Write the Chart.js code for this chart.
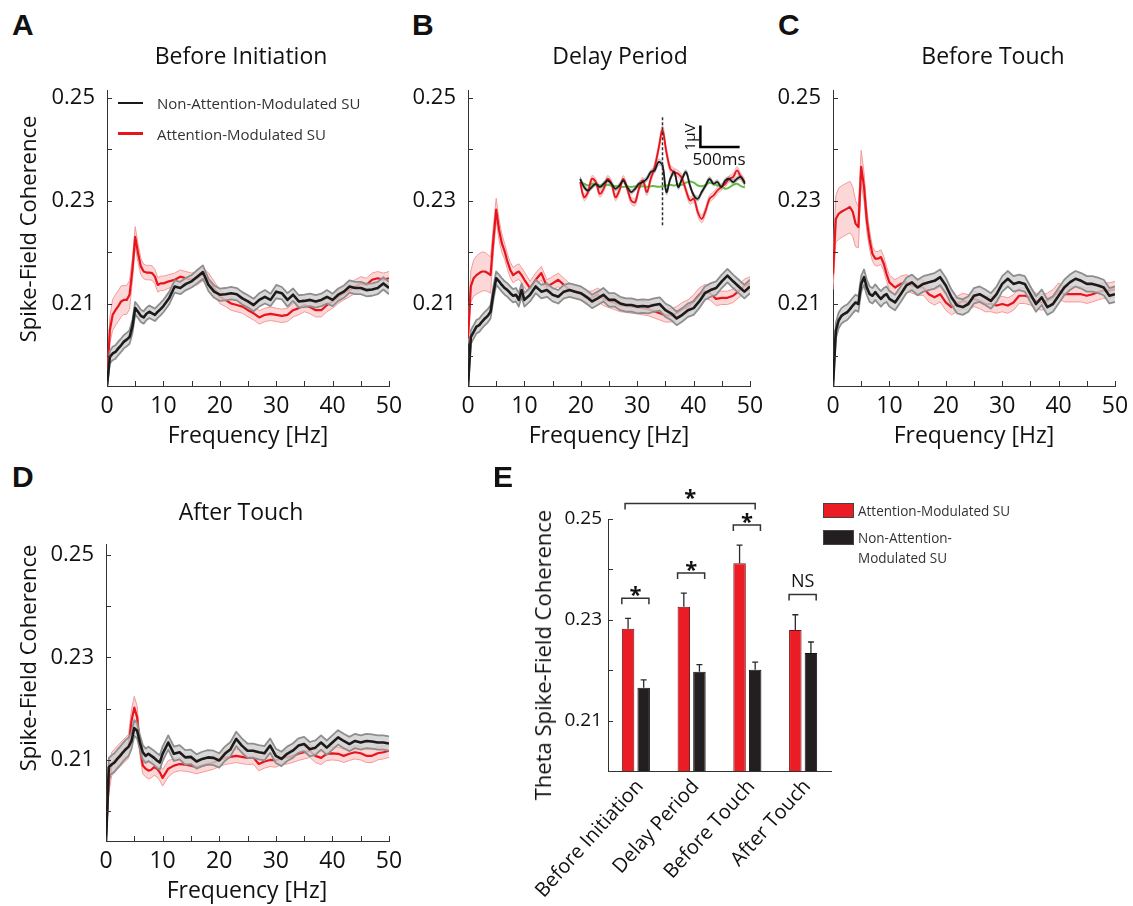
<!DOCTYPE html>
<html><head><meta charset="utf-8">
<script src="https://cdn.jsdelivr.net/npm/chart.js@4.4.1/dist/chart.umd.min.js"></script>
<style>
body{margin:0;background:#fff;width:1133px;height:906px;position:relative;overflow:hidden;font-family:'Open Sans',sans-serif;color:#111}
canvas{position:absolute}
.t{position:absolute;white-space:nowrap;line-height:1}
.letter{position:absolute;font-family:'Liberation Sans',Arial,sans-serif;font-weight:bold;font-size:30px;line-height:30px;color:#111}
.ttl{position:absolute;font-size:23px;line-height:23px;transform:translateX(-50%);white-space:nowrap}
.xtl{position:absolute;font-size:23px;line-height:23px;transform:translateX(-50%);white-space:nowrap}
.ytl{position:absolute;font-size:22px;line-height:22px;white-space:nowrap;transform:translate(-50%,-50%) rotate(-90deg)}
.lg{position:absolute;font-size:15px;line-height:20px;color:#333;white-space:nowrap}
.lgE{position:absolute;font-size:15px;line-height:20px;color:#333;white-space:nowrap;transform:scaleX(0.9);transform-origin:left center}
.z{z-index:5}
</style></head>
<body>
<canvas id="cA" width="369" height="356" style="left:40px;top:70px;width:369px;height:356px"></canvas>
<canvas id="cB" width="369" height="356" style="left:401px;top:70px;width:369px;height:356px"></canvas>
<canvas id="cC" width="369" height="356" style="left:766px;top:70px;width:369px;height:356px"></canvas>
<canvas id="cD" width="369" height="357" style="left:40px;top:524px;width:369px;height:357px"></canvas>
<canvas id="cE" width="341" height="447" style="left:500px;top:459px;width:341px;height:447px"></canvas>
<canvas id="cI" width="171" height="120" style="left:577px;top:110px;width:171px;height:120px"></canvas>

<div class="letter" style="left:12px;top:10px">A</div>
<div class="letter" style="left:412px;top:10px">B</div>
<div class="letter" style="left:778px;top:10px">C</div>
<div class="letter" style="left:12px;top:462px">D</div>
<div class="letter" style="left:493px;top:462px">E</div>

<div class="ttl" style="left:241px;top:44px">Before Initiation</div>
<div class="ttl" style="left:620px;top:44px">Delay Period</div>
<div class="ttl" style="left:993px;top:44px">Before Touch</div>
<div class="ttl" style="left:241px;top:500px">After Touch</div>

<div class="xtl" style="left:248px;top:423px">Frequency [Hz]</div>
<div class="xtl" style="left:609px;top:423px">Frequency [Hz]</div>
<div class="xtl" style="left:974px;top:423px">Frequency [Hz]</div>
<div class="xtl" style="left:247px;top:878px">Frequency [Hz]</div>

<div class="ytl" style="left:27px;top:229px">Spike-Field Coherence</div>
<div class="ytl" style="left:27px;top:658px">Spike-Field Coherence</div>
<div class="ytl" style="left:542px;top:655px">Theta Spike-Field Coherence</div>

<div class="z" style="position:absolute;left:118px;top:101.5px;width:25px;height:2.5px;background:#1a1a1a"></div>
<div class="lg z" style="left:157px;top:93px">Non-Attention-Modulated SU</div>
<div class="z" style="position:absolute;left:118px;top:132px;width:25px;height:2.5px;background:#e8141c"></div>
<div class="lg z" style="left:157px;top:124px">Attention-Modulated SU</div>

<div class="z" style="position:absolute;left:823px;top:503px;width:29px;height:13px;background:#ec1c24;border:1px solid #444"></div>
<div class="lgE z" style="left:858px;top:500px">Attention-Modulated SU</div>
<div class="z" style="position:absolute;left:823px;top:530px;width:29px;height:13px;background:#231f20;border:1px solid #444"></div>
<div class="lgE z" style="left:858px;top:527px">Non-Attention-</div>
<div class="lgE z" style="left:858px;top:547px">Modulated SU</div>

<div class="t z" style="left:689px;top:137px;font-size:15px;transform:translate(-50%,-50%) rotate(-90deg)">1µV</div>
<div class="t z" style="left:719px;top:150px;font-size:17px;transform:translateX(-50%)">500ms</div>

<script>
// ---------- DATA ----------
const freq = [0,0.5,1,1.5,2,2.5,3,3.5,4,4.5,5,5.5,6,6.5,7,7.5,8,8.5,9,9.5,10,
  11,12,13,14,15,16,17,18,19,20,21,22,23,24,25,26,27,28,29,30,
  31,32,33,34,35,36,37,38,39,40,41,42,43,44,45,46,47,48,49,50];

const freqTicks = [0,5,10,15,20,25,30,35,40,45,50];
const freqTickLabels = ['0','','10','','20','','30','','40','','50'];
const cohTicks = [0.20,0.21,0.22,0.23,0.24,0.25];
const cohTickLabels = ['','0.21','','0.23','','0.25'];
const thetaTicks = [0.21,0.22,0.23,0.24,0.25];
const thetaTickLabels = ['0.21','','0.23','','0.25'];

// Panel A: Before Initiation
const aBlack = [0.1942,0.1997,0.2004,0.2007,0.2014,0.2020,0.2027,0.2031,0.2036,0.2056,0.2092,0.2085,0.2077,0.2074,0.2081,0.2085,0.2082,0.2079,0.2085,0.2090,0.2096,
  0.2111,0.2134,0.2131,0.2139,0.2144,0.2153,0.2162,0.2137,0.2124,0.2118,
  0.2119,0.2121,0.2119,0.2111,0.2105,0.2098,0.2108,0.2114,0.2108,0.2124,
  0.2121,0.2108,0.2118,0.2105,0.2106,0.2108,0.2105,0.2108,0.2114,0.2108,
  0.2118,0.2124,0.2134,0.2131,0.2131,0.2127,0.2128,0.2131,0.2140,0.2131];
const aBlackSem = [0.0005,0.0012,0.0013,0.0013,0.0013,0.0013,0.0013,0.0013,0.0013,0.0013,0.0012,0.0012,0.0012,0.0012,0.0012,0.0012,0.0012,0.0012,0.0012,0.0012,0.0012,
  0.0012,0.0012,0.0012,0.0012,0.0012,0.0013,0.0013,0.0012,0.0012,0.0012,
  0.0012,0.0012,0.0012,0.0012,0.0012,0.0012,0.0013,0.0013,0.0012,0.0013,
  0.0012,0.0013,0.0012,0.0012,0.0012,0.0012,0.0012,0.0012,0.0013,0.0012,
  0.0012,0.0012,0.0012,0.0012,0.0012,0.0012,0.0012,0.0012,0.0012,0.0012];
const aRed = [0.1942,0.2049,0.2079,0.2088,0.2096,0.2105,0.2108,0.2108,0.2118,0.2166,0.2230,0.2199,0.2173,0.2163,0.2161,0.2161,0.2160,0.2153,0.2137,0.2140,0.2140,
  0.2144,0.2147,0.2153,0.2150,0.2147,0.2150,0.2158,0.2147,0.2131,0.2114,
  0.2108,0.2101,0.2098,0.2095,0.2088,0.2082,0.2074,0.2079,0.2081,0.2079,
  0.2077,0.2079,0.2088,0.2092,0.2098,0.2094,0.2088,0.2088,0.2098,0.2105,
  0.2114,0.2121,0.2127,0.2134,0.2140,0.2137,0.2147,0.2150,0.2147,0.2150];
const aRedSem = [0.0005,0.0025,0.0030,0.0030,0.0030,0.0030,0.0028,0.0028,0.0028,0.0022,0.0020,0.0018,0.0016,0.0014,0.0014,0.0014,0.0014,0.0014,0.0014,0.0014,0.0014,
  0.0013,0.0013,0.0013,0.0013,0.0013,0.0013,0.0013,0.0013,0.0013,0.0013,
  0.0013,0.0013,0.0013,0.0013,0.0013,0.0013,0.0013,0.0013,0.0013,0.0013,
  0.0013,0.0013,0.0013,0.0013,0.0013,0.0013,0.0013,0.0013,0.0013,0.0013,
  0.0013,0.0013,0.0013,0.0013,0.0013,0.0013,0.0013,0.0013,0.0013,0.0013];

// Panel B: Delay Period
const bBlack = [0.1939,0.2036,0.2046,0.2056,0.2059,0.2066,0.2072,0.2077,0.2085,0.2121,0.2150,0.2144,0.2137,0.2131,0.2127,0.2121,0.2116,0.2118,0.2108,0.2127,0.2108,
  0.2118,0.2134,0.2124,0.2127,0.2118,0.2114,0.2124,0.2127,0.2124,0.2121,
  0.2114,0.2105,0.2111,0.2118,0.2108,0.2108,0.2101,0.2098,0.2098,0.2095,
  0.2096,0.2095,0.2098,0.2100,0.2088,0.2082,0.2072,0.2079,0.2088,0.2092,
  0.2105,0.2121,0.2127,0.2131,0.2144,0.2155,0.2144,0.2134,0.2124,0.2134];
const bBlackSem = [0.0005,0.0013,0.0013,0.0013,0.0013,0.0013,0.0013,0.0013,0.0013,0.0013,0.0013,0.0013,0.0013,0.0013,0.0013,0.0013,0.0013,0.0013,0.0013,0.0013,0.0013,
  0.0013,0.0013,0.0013,0.0013,0.0013,0.0013,0.0013,0.0013,0.0013,0.0013,
  0.0013,0.0013,0.0013,0.0013,0.0013,0.0013,0.0013,0.0013,0.0013,0.0013,
  0.0013,0.0013,0.0013,0.0013,0.0013,0.0013,0.0013,0.0013,0.0013,0.0013,
  0.0013,0.0013,0.0013,0.0013,0.0013,0.0013,0.0013,0.0013,0.0013,0.0013];
const bRed = [0.2033,0.2134,0.2150,0.2156,0.2160,0.2163,0.2163,0.2160,0.2156,0.2225,0.2283,0.2244,0.2218,0.2202,0.2182,0.2166,0.2156,0.2160,0.2163,0.2156,0.2147,
  0.2131,0.2147,0.2160,0.2134,0.2140,0.2147,0.2137,0.2127,0.2124,0.2121,
  0.2112,0.2112,0.2118,0.2110,0.2106,0.2102,0.2098,0.2097,0.2095,0.2094,
  0.2092,0.2090,0.2086,0.2082,0.2078,0.2078,0.2082,0.2090,0.2095,0.2105,
  0.2118,0.2125,0.2120,0.2110,0.2112,0.2112,0.2116,0.2125,0.2135,0.2140];
const bRedSem = [0.0010,0.0030,0.0035,0.0037,0.0038,0.0038,0.0037,0.0036,0.0035,0.0025,0.0022,0.0020,0.0018,0.0015,0.0015,0.0015,0.0015,0.0015,0.0015,0.0015,0.0015,
  0.0013,0.0013,0.0013,0.0013,0.0013,0.0013,0.0013,0.0013,0.0013,0.0013,
  0.0013,0.0013,0.0013,0.0013,0.0013,0.0013,0.0013,0.0013,0.0013,0.0013,
  0.0013,0.0013,0.0013,0.0013,0.0013,0.0013,0.0013,0.0013,0.0013,0.0013,
  0.0013,0.0013,0.0013,0.0013,0.0013,0.0013,0.0013,0.0013,0.0013,0.0013];

// Panel C: Before Touch
const cBlack = [0.1941,0.2048,0.2068,0.2077,0.2081,0.2084,0.2090,0.2097,0.2103,0.2100,0.2139,0.2152,0.2132,0.2119,0.2116,0.2123,0.2116,0.2110,0.2116,0.2119,0.2110,
  0.2103,0.2119,0.2136,0.2142,0.2132,0.2139,0.2142,0.2145,0.2152,0.2136,
  0.2113,0.2097,0.2094,0.2100,0.2116,0.2119,0.2113,0.2106,0.2119,0.2139,
  0.2149,0.2139,0.2142,0.2139,0.2119,0.2100,0.2113,0.2094,0.2100,0.2116,
  0.2132,0.2142,0.2149,0.2145,0.2139,0.2139,0.2136,0.2132,0.2116,0.2119];
const cBlackSem = [0.0005,0.0015,0.0015,0.0015,0.0015,0.0015,0.0015,0.0015,0.0015,0.0015,0.0015,0.0015,0.0015,0.0015,0.0015,0.0015,0.0015,0.0015,0.0015,0.0015,0.0015,
  0.0015,0.0015,0.0015,0.0015,0.0015,0.0015,0.0015,0.0015,0.0015,0.0015,
  0.0015,0.0015,0.0015,0.0015,0.0015,0.0015,0.0015,0.0015,0.0015,0.0015,
  0.0015,0.0015,0.0015,0.0015,0.0015,0.0015,0.0015,0.0015,0.0015,0.0015,
  0.0015,0.0015,0.0015,0.0015,0.0015,0.0015,0.0015,0.0015,0.0015,0.0015];
const cRed = [0.2158,0.2265,0.2275,0.2279,0.2282,0.2285,0.2288,0.2279,0.2256,0.2249,0.2366,0.2327,0.2262,0.2223,0.2197,0.2188,0.2188,0.2191,0.2178,0.2158,0.2142,
  0.2132,0.2139,0.2142,0.2136,0.2132,0.2132,0.2119,0.2113,0.2119,0.2103,
  0.2094,0.2100,0.2106,0.2103,0.2110,0.2106,0.2100,0.2100,0.2097,0.2100,
  0.2097,0.2103,0.2116,0.2116,0.2113,0.2106,0.2103,0.2106,0.2113,0.2126,
  0.2119,0.2119,0.2119,0.2119,0.2116,0.2119,0.2123,0.2126,0.2126,0.2129];
const cRedSem = [0.0030,0.0045,0.0050,0.0050,0.0050,0.0050,0.0050,0.0048,0.0045,0.0040,0.0032,0.0028,0.0022,0.0018,0.0014,0.0014,0.0014,0.0014,0.0014,0.0014,0.0014,
  0.0015,0.0015,0.0015,0.0015,0.0015,0.0015,0.0015,0.0015,0.0015,0.0015,
  0.0015,0.0015,0.0015,0.0015,0.0015,0.0015,0.0015,0.0015,0.0015,0.0015,
  0.0015,0.0015,0.0015,0.0015,0.0015,0.0015,0.0015,0.0015,0.0015,0.0015,
  0.0015,0.0015,0.0015,0.0015,0.0015,0.0015,0.0015,0.0015,0.0015,0.0015];

// Panel D: After Touch
const dBlack = [0.1941,0.2086,0.2091,0.2095,0.2102,0.2108,0.2115,0.2121,0.2126,0.2137,0.2162,0.2157,0.2134,0.2115,0.2108,0.2112,0.2108,0.2104,0.2099,0.2095,0.2112,
  0.2134,0.2112,0.2115,0.2105,0.2106,0.2097,0.2102,0.2105,0.2104,0.2099,
  0.2112,0.2121,0.2141,0.2128,0.2118,0.2118,0.2115,0.2113,0.2128,0.2108,
  0.2102,0.2112,0.2118,0.2128,0.2131,0.2121,0.2124,0.2134,0.2124,0.2134,
  0.2144,0.2137,0.2131,0.2137,0.2134,0.2137,0.2136,0.2134,0.2134,0.2132];
const dBlackSem = [0.0005,0.0018,0.0018,0.0018,0.0018,0.0018,0.0018,0.0018,0.0018,0.0016,0.0015,0.0015,0.0014,0.0014,0.0014,0.0014,0.0014,0.0014,0.0014,0.0014,0.0014,
  0.0014,0.0014,0.0014,0.0014,0.0014,0.0014,0.0014,0.0014,0.0014,0.0014,
  0.0014,0.0014,0.0014,0.0014,0.0014,0.0014,0.0014,0.0014,0.0014,0.0014,
  0.0014,0.0014,0.0014,0.0014,0.0014,0.0014,0.0014,0.0014,0.0014,0.0014,
  0.0014,0.0014,0.0014,0.0014,0.0014,0.0014,0.0014,0.0014,0.0014,0.0014];
const dRed = [0.1955,0.2060,0.2092,0.2098,0.2104,0.2110,0.2116,0.2121,0.2127,0.2176,0.2202,0.2183,0.2125,0.2089,0.2083,0.2079,0.2081,0.2086,0.2083,0.2076,0.2065,
  0.2083,0.2089,0.2092,0.2091,0.2089,0.2086,0.2089,0.2092,0.2095,0.2100,
  0.2104,0.2106,0.2108,0.2106,0.2104,0.2105,0.2092,0.2097,0.2100,0.2099,
  0.2104,0.2105,0.2108,0.2112,0.2115,0.2118,0.2108,0.2104,0.2112,0.2113,
  0.2112,0.2108,0.2112,0.2115,0.2113,0.2108,0.2108,0.2113,0.2115,0.2118];
const dRedSem = [0.0020,0.0023,0.0023,0.0023,0.0023,0.0023,0.0023,0.0023,0.0023,0.0022,0.0022,0.0022,0.0016,0.0016,0.0016,0.0016,0.0016,0.0016,0.0016,0.0016,0.0016,
  0.0016,0.0013,0.0013,0.0013,0.0013,0.0013,0.0013,0.0013,0.0013,0.0013,
  0.0013,0.0013,0.0013,0.0013,0.0013,0.0013,0.0013,0.0013,0.0013,0.0013,
  0.0013,0.0013,0.0013,0.0013,0.0013,0.0013,0.0013,0.0013,0.0013,0.0013,
  0.0013,0.0013,0.0013,0.0013,0.0013,0.0013,0.0013,0.0013,0.0013,0.0013];

// Panel E: theta coherence per epoch
const epochs = ['Before Initiation','Delay Period','Before Touch','After Touch'];
const thetaAttn = [0.2282,0.2326,0.2412,0.2280];
const thetaAttnErr = [0.0021,0.0027,0.0036,0.0030];
const thetaNon = [0.2165,0.2197,0.2201,0.2234];
const thetaNonErr = [0.0016,0.0014,0.0015,0.0022];
const sigLabels = ['*','*','*','NS'];
const sigAcross = {from:0, to:2, label:'*'};

// Inset (panel B): spike-triggered LFP, time [ms] vs µV
const tInset = [-1050,-1000,-950,-900,-850,-800,-750,-700,-650,-600,-550,-500,-450,-400,-350,-300,-250,-200,-150,-100,-50,0,
  50,100,150,200,250,300,350,400,450,500,550,600,650,700,750,800,850,900,950,1000,1050];
const redInset = [0.08,-0.62,-0.38,0.23,0.08,-0.46,-0.23,0.23,0.00,-0.62,-0.31,0.23,-0.23,-0.77,-0.85,-0.23,0.15,-0.38,0.23,0.77,1.62,2.46,
  1.46,0.69,0.54,0.46,0.23,-0.31,-0.77,-0.69,-1.31,-1.62,-1.23,-0.69,-0.54,-0.31,-0.15,0.00,0.23,0.31,0.62,0.31,0.08];
const redInsetSem = [0.15,0.16,0.16,0.15,0.15,0.16,0.16,0.15,0.15,0.16,0.16,0.15,0.15,0.16,0.17,0.16,0.15,0.16,0.16,0.18,0.20,0.22,
  0.20,0.18,0.17,0.16,0.16,0.16,0.17,0.17,0.18,0.18,0.18,0.17,0.16,0.16,0.15,0.15,0.15,0.16,0.16,0.16,0.15];
const blackInset = [0.23,-0.15,-0.31,-0.15,0.00,-0.15,0.00,0.15,0.00,-0.23,-0.08,0.15,-0.15,-0.38,-0.23,0.00,0.08,0.23,0.54,0.62,1.00,0.85,
  -0.38,0.23,0.54,-0.15,0.23,0.54,-0.08,-0.54,-0.69,-0.38,-0.08,0.23,0.00,0.08,-0.15,0.15,0.23,0.08,0.23,0.31,0.00];
const blackInsetSem = [0.10,0.10,0.10,0.10,0.10,0.10,0.10,0.10,0.10,0.10,0.10,0.10,0.10,0.10,0.10,0.10,0.10,0.11,0.11,0.12,0.13,0.13,
  0.12,0.11,0.11,0.11,0.11,0.11,0.11,0.11,0.11,0.11,0.10,0.10,0.10,0.10,0.10,0.10,0.10,0.10,0.10,0.10,0.10];
const greenInset = [0.05,0.00,-0.08,0.00,-0.05,-0.08,-0.11,-0.05,-0.08,-0.11,-0.11,-0.15,-0.11,-0.15,-0.11,-0.14,-0.11,-0.14,-0.11,-0.11,-0.14,-0.11,
  -0.08,-0.05,-0.08,-0.02,-0.05,0.05,0.11,0.05,-0.08,-0.11,-0.05,0.05,0.00,-0.08,-0.11,-0.23,-0.17,-0.05,0.00,-0.11,-0.17];

// ---------- RENDERING ----------
const FAM = "'Open Sans', sans-serif";
Chart.defaults.font.family = FAM;
Chart.defaults.color = '#111';

const RED = '#e8141c', BLACK = '#1c1a1a';

const innerTicks = {
  id: 'innerTicks',
  afterDraw(chart, args, opts) {
    const ctx = chart.ctx, ca = chart.chartArea;
    ctx.save();
    ctx.strokeStyle = '#333'; ctx.lineWidth = 1;
    if (opts.x) {
      chart.scales.x.ticks.forEach(t => {
        const px = Math.round(chart.scales.x.getPixelForValue(t.value)) + 0.5;
        ctx.beginPath(); ctx.moveTo(px, ca.bottom); ctx.lineTo(px, ca.bottom - 5); ctx.stroke();
      });
    }
    if (opts.y) {
      chart.scales.y.ticks.forEach(t => {
        const py = Math.round(chart.scales.y.getPixelForValue(t.value)) + 0.5;
        ctx.beginPath(); ctx.moveTo(ca.left, py); ctx.lineTo(ca.left + 5, py); ctx.stroke();
      });
    }
    ctx.restore();
  }
};

function pts(m, s, sign) { return freq.map((f, i) => ({x: f, y: s ? m[i] + sign * s[i] : m[i]})); }

function linePanel(id, red, redSem, black, blackSem, yMin, yMax, yW) {
  const base = {pointRadius: 0, tension: 0, borderJoinStyle: 'round', spanGaps: true};
  new Chart(document.getElementById(id), {
    type: 'line',
    data: {datasets: [
      Object.assign({label: 'Attention SEM+', data: pts(red, redSem, 1), borderColor: '#f29a9a', borderWidth: 1, fill: false, order: 4}, base),
      Object.assign({label: 'Attention SEM-', data: pts(red, redSem, -1), borderColor: '#f29a9a', borderWidth: 1, fill: '-1', backgroundColor: 'rgba(240,110,110,0.28)', order: 4}, base),
      Object.assign({label: 'Attention-Modulated SU', data: pts(red), borderColor: RED, borderWidth: 2.2, fill: false, order: 3}, base),
      Object.assign({label: 'Non SEM+', data: pts(black, blackSem, 1), borderColor: '#8e8e8e', borderWidth: 1.8, fill: false, order: 2}, base),
      Object.assign({label: 'Non SEM-', data: pts(black, blackSem, -1), borderColor: '#8e8e8e', borderWidth: 1.8, fill: '-1', backgroundColor: 'rgba(206,206,206,0.8)', order: 2}, base),
      Object.assign({label: 'Non-Attention-Modulated SU', data: pts(black), borderColor: BLACK, borderWidth: 2.6, fill: false, order: 1}, base)
    ]},
    options: {
      responsive: false, animation: false, devicePixelRatio: 1,
      layout: {padding: {top: 20, right: 20, left: 0, bottom: 0}},
      plugins: {legend: {display: false}, tooltip: {enabled: false}, innerTicks: {x: true, y: true}},
      scales: {
        x: {type: 'linear', min: 0, max: 50,
          grid: {display: false, drawTicks: false}, border: {display: true, color: '#333', width: 1},
          afterBuildTicks: s => { s.ticks = freqTicks.map(v => ({value: v})); },
          ticks: {autoSkip: false, maxRotation: 0, padding: 7, color: '#111', font: {size: 23},
            callback: (v, i) => freqTickLabels[i]},
          afterFit: s => { s.height = 40; s.paddingLeft = 0; s.paddingRight = 0; }},
        y: {type: 'linear', min: yMin, max: yMax,
          grid: {display: false, drawTicks: false}, border: {display: true, color: '#333', width: 1},
          afterBuildTicks: s => { s.ticks = cohTicks.map(v => ({value: v})); },
          ticks: {autoSkip: false, padding: 12, color: '#111', font: {size: 22},
            callback: (v, i) => cohTickLabels[i]},
          afterFit: s => { s.width = yW; s.paddingTop = 0; s.paddingBottom = 0; }}
      }
    },
    plugins: [innerTicks]
  });
}

linePanel('cA', aRed, aRedSem, aBlack, aBlackSem, 0.1941, 0.2515, 67);
linePanel('cB', bRed, bRedSem, bBlack, bBlackSem, 0.1941, 0.2515, 67);
linePanel('cC', cRed, cRedSem, cBlack, cBlackSem, 0.1941, 0.2515, 67);
linePanel('cD', dRed, dRedSem, dBlack, dBlackSem, 0.1942, 0.2521, 66);

// ----- Panel E -----
const barExtras = {
  id: 'barExtras',
  afterDatasetsDraw(chart) {
    const ctx = chart.ctx, ys = chart.scales.y;
    const mA = chart.getDatasetMeta(0), mN = chart.getDatasetMeta(1);
    const errs = [thetaAttnErr, thetaNonErr], vals = [thetaAttn, thetaNon];
    ctx.save();
    ctx.strokeStyle = '#2a2a2a'; ctx.lineWidth = 1.3;
    [mA, mN].forEach((m, k) => {
      m.data.forEach((el, i) => {
        const yTop = ys.getPixelForValue(vals[k][i] + errs[k][i]);
        ctx.beginPath(); ctx.moveTo(el.x, el.y); ctx.lineTo(el.x, yTop);
        ctx.moveTo(el.x - 3, yTop); ctx.lineTo(el.x + 3, yTop); ctx.stroke();
      });
    });
    // brackets
    ctx.strokeStyle = '#333'; ctx.lineWidth = 1.5; ctx.fillStyle = '#111'; ctx.textAlign = 'center';
    const tops = thetaAttn.map((v, i) => Math.max(v + thetaAttnErr[i], thetaNon[i] + thetaNonErr[i]));
    sigLabels.forEach((lab, i) => {
      const a = mA.data[i], n = mN.data[i];
      const x1 = a.x - a.width / 2, x2 = n.x + n.width / 2 - 1;
      const y = ys.getPixelForValue(tops[i] + 0.0040);
      ctx.beginPath(); ctx.moveTo(x1, y + 6); ctx.lineTo(x1, y); ctx.lineTo(x2, y); ctx.lineTo(x2, y + 6); ctx.stroke();
      if (lab === '*') { ctx.font = "bold 22px " + FAM; ctx.textBaseline = 'alphabetic'; ctx.fillText('*', (x1 + x2) / 2, y + 4); }
      else { ctx.font = "18px " + FAM; ctx.textBaseline = 'alphabetic'; ctx.fillText(lab, (x1 + x2) / 2, y - 8); }
    });
    const a0 = mA.data[sigAcross.from], n2 = mN.data[sigAcross.to];
    const yT = ys.getPixelForValue(Math.max(...tops) + 0.0083);
    ctx.beginPath(); ctx.moveTo(a0.x - 3, yT + 6); ctx.lineTo(a0.x - 3, yT); ctx.lineTo(n2.x, yT); ctx.lineTo(n2.x, yT + 6); ctx.stroke();
    ctx.font = "bold 22px " + FAM; ctx.fillText(sigAcross.label, (a0.x - 3 + n2.x) / 2, yT + 2);
    ctx.restore();
  }
};

new Chart(document.getElementById('cE'), {
  type: 'bar',
  data: {labels: epochs, datasets: [
    {label: 'Attention-Modulated SU', data: thetaAttn, backgroundColor: '#ec1c24', borderColor: '#6a1518', borderWidth: 1, base: 0.2},
    {label: 'Non-Attention-Modulated SU', data: thetaNon, backgroundColor: '#231f20', borderColor: '#111', borderWidth: 1, base: 0.2}
  ]},
  options: {
    responsive: false, animation: false, devicePixelRatio: 1,
    layout: {padding: {top: 60, right: 10, left: 0, bottom: 0}},
    datasets: {bar: {categoryPercentage: 0.56, barPercentage: 0.8}},
    plugins: {legend: {display: false}, tooltip: {enabled: false}, innerTicks: {x: false, y: true}},
    scales: {
      x: {grid: {display: false, drawTicks: false}, border: {display: true, color: '#333', width: 1},
        ticks: {autoSkip: false, minRotation: 48, maxRotation: 48, padding: 4, labelOffset: 4, color: '#111', font: {size: 20}},
        afterFit: s => { s.height = 135; s.paddingLeft = 0; s.paddingRight = 0; }},
      y: {type: 'linear', min: 0.2, max: 0.25,
        grid: {display: false, drawTicks: false}, border: {display: true, color: '#333', width: 1},
        afterBuildTicks: s => { s.ticks = thetaTicks.map(v => ({value: v})); },
        ticks: {autoSkip: false, padding: 6, color: '#111', font: {size: 19},
          callback: (v, i) => thetaTickLabels[i]},
        afterFit: s => { s.width = 108; s.paddingTop = 0; s.paddingBottom = 0; }}
    }
  },
  plugins: [innerTicks, barExtras]
});

// ----- Inset in B -----
const insetMarks = {
  id: 'insetMarks',
  afterDatasetsDraw(chart, args, o) {
    const ctx = chart.ctx, xs = chart.scales.x, ys = chart.scales.y;
    ctx.save();
    ctx.strokeStyle = '#333'; ctx.lineWidth = 1.5; ctx.setLineDash([3, 2]);
    const ex = xs.getPixelForValue(o.eventTime);
    ctx.beginPath(); ctx.moveTo(ex, ys.getPixelForValue(o.dashTop)); ctx.lineTo(ex, ys.getPixelForValue(o.dashBottom)); ctx.stroke();
    ctx.setLineDash([]); ctx.strokeStyle = '#000'; ctx.lineWidth = 2.5;
    const x0 = xs.getPixelForValue(o.barT0), y0 = ys.getPixelForValue(o.barV0);
    ctx.beginPath();
    ctx.moveTo(x0, ys.getPixelForValue(o.barV0 + o.barV));
    ctx.lineTo(x0, y0);
    ctx.lineTo(xs.getPixelForValue(o.barT0 + o.barT), y0);
    ctx.stroke();
    ctx.restore();
  }
};
function ipts(m, s, sign) { return tInset.map((t, i) => ({x: t, y: s ? m[i] + sign * s[i] : m[i]})); }
const ib = {pointRadius: 0, tension: 0.35, borderJoinStyle: 'round'};
new Chart(document.getElementById('cI'), {
  type: 'line',
  data: {datasets: [
    Object.assign({data: ipts(redInset, redInsetSem, 1), borderColor: 'rgba(240,140,140,0.6)', borderWidth: 1, fill: false, order: 6}, ib),
    Object.assign({data: ipts(redInset, redInsetSem, -1), borderColor: 'rgba(240,140,140,0.6)', borderWidth: 1, fill: '-1', backgroundColor: 'rgba(240,120,120,0.3)', order: 6}, ib),
    Object.assign({data: ipts(blackInset, blackInsetSem, 1), borderColor: 'rgba(150,150,150,0.6)', borderWidth: 1, fill: false, order: 5}, ib),
    Object.assign({data: ipts(blackInset, blackInsetSem, -1), borderColor: 'rgba(150,150,150,0.6)', borderWidth: 1, fill: '-1', backgroundColor: 'rgba(170,170,170,0.45)', order: 5}, ib),
    Object.assign({label: 'green', data: ipts(greenInset), borderColor: '#62bd45', borderWidth: 2, fill: false, order: 4}, ib),
    Object.assign({label: 'Attention', data: ipts(redInset), borderColor: RED, borderWidth: 1.8, fill: false, order: 3}, ib),
    Object.assign({label: 'Non-Attention', data: ipts(blackInset), borderColor: BLACK, borderWidth: 1.8, fill: false, order: 2}, ib)
  ]},
  options: {
    responsive: false, animation: false, devicePixelRatio: 1,
    layout: {padding: 0},
    plugins: {legend: {display: false}, tooltip: {enabled: false},
      insetMarks: {eventTime: 0, dashTop: 3.07, dashBottom: -1.92, barT0: 483, barV0: 1.69, barT: 500, barV: 1}},
    scales: {
      x: {type: 'linear', min: -1090, max: 1090, display: false},
      y: {type: 'linear', min: -2.13, max: 3.40, display: false}
    }
  },
  plugins: [insetMarks]
});
</script>
</body></html>
